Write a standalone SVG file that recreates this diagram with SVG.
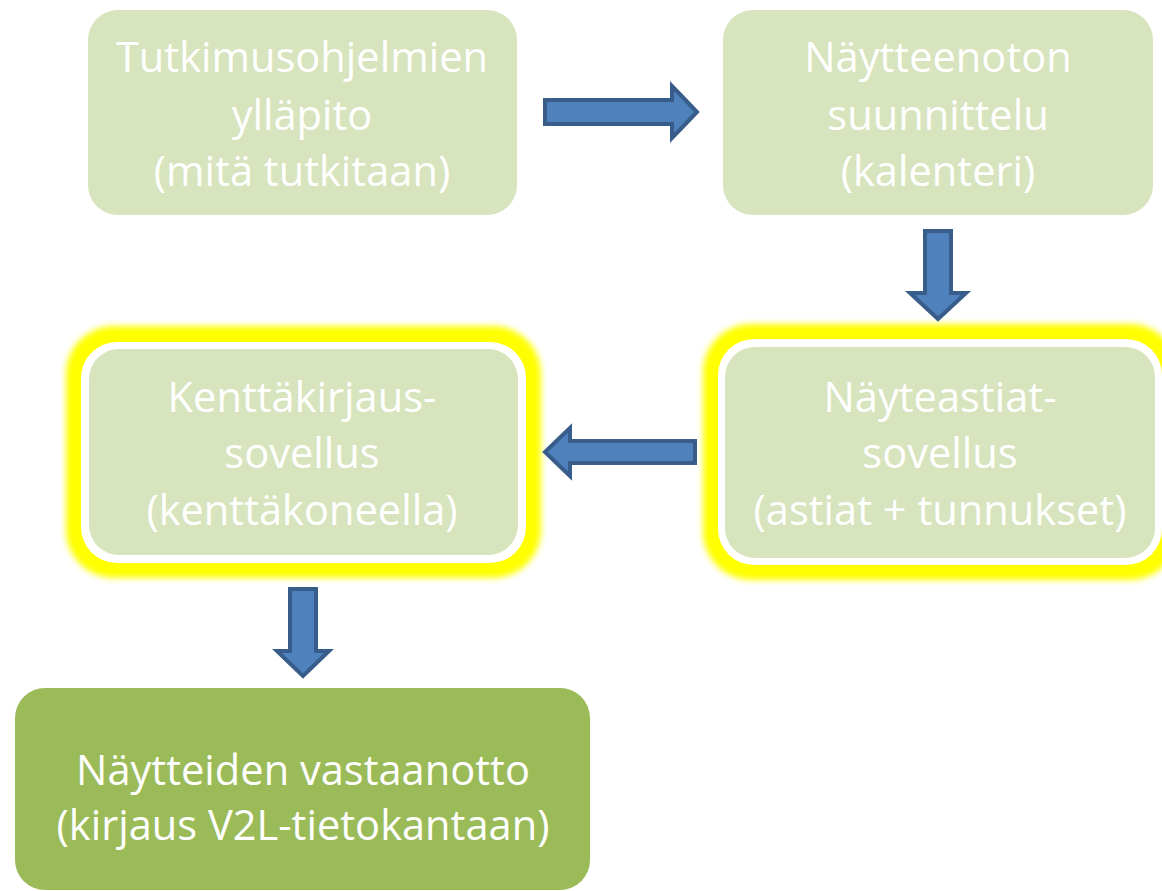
<svg xmlns="http://www.w3.org/2000/svg" width="1162" height="891" viewBox="0 0 1162 891">
<style>
.lt{fill:#d7e4bd}
.dk{fill:#9bbb59}
.wb{fill:#ffffff}
.glow{fill:#ffff00;filter:url(#blur)}
.t{font-family:"Open Sans","Noto Sans",sans-serif;font-size:41.6px;fill:#ffffff;text-anchor:middle}
.arr{fill:#4f81bd;stroke:#385d8a;stroke-width:4;stroke-linejoin:miter}
</style>
<defs>
<filter id="blur" x="-10%" y="-10%" width="120%" height="120%"><feGaussianBlur stdDeviation="3"/></filter>
</defs>
<rect width="1162" height="891" fill="#ffffff"/>
<g id="node-tutkimus">
<rect class="lt" x="88" y="10" width="429" height="205" rx="30"/>
<text class="t" x="302" y="72">Tutkimusohjelmien</text>
<text class="t" x="302" y="130">ylläpito</text>
<text class="t" x="302" y="186">(mitä tutkitaan)</text>
</g>
<g id="node-nayttenoton">
<rect class="lt" x="723" y="10" width="430" height="205" rx="30"/>
<text class="t" x="938" y="72">Näytteenoton</text>
<text class="t" x="938" y="130">suunnittelu</text>
<text class="t" x="938" y="186">(kalenteri)</text>
</g>
<g id="node-kenttakirjaus">
<rect class="glow" x="66" y="326" width="475" height="252" rx="48"/>
<rect class="wb" x="81" y="342" width="445" height="221" rx="36"/>
<rect class="lt" x="89" y="349" width="429" height="206" rx="30"/>
<text class="t" x="302" y="412">Kenttäkirjaus-</text>
<text class="t" x="302" y="468">sovellus</text>
<text class="t" x="302" y="525">(kenttäkoneella)</text>
</g>
<g id="node-nayteastiat">
<rect class="glow" x="703" y="324" width="475" height="256" rx="48"/>
<rect class="wb" x="718" y="339" width="444" height="226" rx="36"/>
<rect class="lt" x="725" y="347" width="430" height="211" rx="30"/>
<text class="t" x="940" y="412">Näyteastiat-</text>
<text class="t" x="940" y="468">sovellus</text>
<text class="t" x="940" y="525">(astiat + tunnukset)</text>
</g>
<g id="node-vastaanotto">
<rect class="dk" x="15" y="688" width="575" height="202" rx="30"/>
<text class="t" x="303" y="785">Näytteiden vastaanotto</text>
<text class="t" x="303" y="840">(kirjaus V2L-tietokantaan)</text>
</g>
<g id="connectors">
<polygon class="arr" points="545,100 672,100 672,86 697,112 672,138 672,124 545,124"/>
<polygon class="arr" points="925,231 951,231 951,293 966,293 938,319 910,293 925,293"/>
<polygon class="arr" points="695,441 570,441 570,428 545,452 570,476 570,463 695,463"/>
<polygon class="arr" points="290,589 316,589 316,651 329,651 303,676 277,651 290,651"/>
</g>
</svg>
